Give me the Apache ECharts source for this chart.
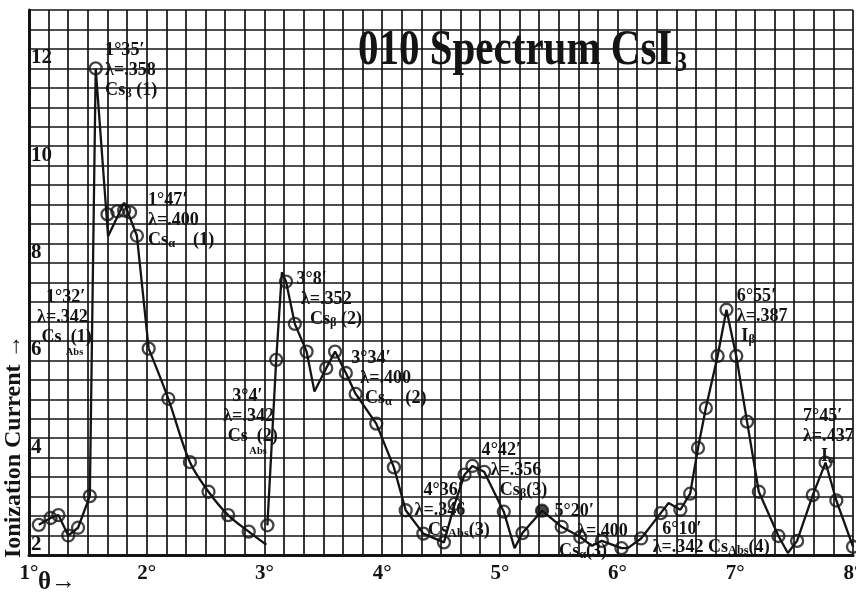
<!DOCTYPE html>
<html><head><meta charset="utf-8">
<script src="https://cdn.jsdelivr.net/npm/echarts@6/dist/echarts.min.js"></script>
<style>html,body{margin:0;padding:0;background:#fff}#c{width:856px;height:592px}</style>
</head><body><div id="c"></div>
<script>
// θ in arc-minutes, ionization current in scale divisions
const circleMinutes = [65, 71, 75, 80, 85, 91, 94, 100, 105, 108.5, 111.5, 115, 121, 131, 142, 151.5, 161.5, 172, 181.5, 186, 191, 195.5, 201.5, 211.5, 216, 221.5, 226.5, 237, 246, 252, 261, 271.5, 277, 282, 286, 292, 302, 311.5, 321.5, 331.5, 341, 352, 362, 372, 382, 392, 397, 401, 405, 411, 415.5, 420.5, 426, 432, 442, 451.5, 459.5, 466, 471.5, 480];
const circleCurrent = [2.62, 2.76, 2.82, 2.40, 2.56, 3.21, 12.0, 9.0, 9.06, 9.08, 9.04, 8.56, 6.24, 5.21, 3.91, 3.30, 2.82, 2.48, 2.61, 6.01, 7.62, 6.75, 6.18, 5.84, 6.18, 5.74, 5.31, 4.70, 3.80, 2.92, 2.44, 2.26, 3.05, 3.65, 3.83, 3.71, 2.89, 2.45, 2.91, 2.58, 2.37, 2.29, 2.14, 2.34, 2.86, 2.93, 3.26, 4.20, 5.02, 6.09, 7.04, 6.09, 4.74, 3.30, 2.39, 2.29, 3.23, 3.90, 3.12, 2.17];

// drawn curve, first order (straight strokes)
const curveAMinutes = [65, 71, 75, 80, 85, 91, 94, 100.3, 108.5, 115, 121];
const curveACurrent = [2.62, 2.76, 2.82, 2.40, 2.56, 3.21, 12.0, 8.55, 9.24, 8.56, 6.24];
// smooth decay between 2° and 3°
const curveBMinutes = [121, 131, 142, 151.5, 161.5, 172, 181];
const curveBCurrent = [6.24, 5.21, 3.91, 3.30, 2.82, 2.48, 2.21];
// from 3° to 8°
const curveCMinutes = [181.5, 186, 188.9, 191, 195.5, 201.5, 205.5, 211.5, 216, 221.5, 226.5, 237, 246, 252, 261, 271.5, 277, 282, 286, 292, 302, 307.5, 311.5, 321.5, 331.5, 341, 346.8, 352, 362, 365.2, 372, 382, 386, 392, 397, 401, 405, 411, 415.5, 420.5, 426, 432, 442, 446.8, 451.5, 459.5, 466, 471.5, 480];
const curveCCurrent = [2.61, 6.01, 7.81, 7.62, 6.75, 6.18, 5.36, 5.84, 6.18, 5.74, 5.31, 4.70, 3.80, 2.92, 2.44, 2.26, 3.05, 3.65, 3.83, 3.71, 2.89, 2.14, 2.45, 2.91, 2.58, 2.37, 2.19, 2.29, 2.14, 2.14, 2.34, 2.86, 3.07, 2.93, 3.26, 4.20, 5.02, 6.09, 7.04, 6.09, 4.74, 3.30, 2.39, 2.04, 2.29, 3.23, 3.90, 3.12, 2.17];

const xTickLabels = ['1°', '2°', '3°', '4°', '5°', '6°', '7°', '8°'];
const yTickLabels = ['2', '4', '6', '8', '10', '12'];
const filledCircleMinute = 321.5;

const titleMain = '010 Spectrum CsI';
const titleSub = '3';
const yName = 'Ionization Current →';
const xName = 'θ→';

// annotation text blocks, anchored (top-left) in data coordinates
const annotations = [
  {at: [98.8, 12.58], lines: ['{t|1°35′}', '{t|λ=.358}', '{t|Cs}{s|β}{t| (1)}']},
  {at: [120.7, 9.50], lines: ['{t|1°47′}', '{t|λ=.400}', '{t|Cs}{s|α}{t|    (1)}']},
  {at: [64.1, 7.51], lines: ['{t|  1°32′}', '{t|λ=.342}', '{t| Cs  (1)}', '{a|           Abs}']},
  {at: [159.0, 5.47], lines: ['{t|  3°4′}', '{t|λ=.342}', '{t| Cs  (2)}', '{a|          Abs}']},
  {at: [196.3, 7.88], lines: ['{t|3°8′}', '{t| λ=.352}', '{t|   Cs}{s|β}{t| (2)}']},
  {at: [224.3, 6.25], lines: ['{t|3°34′}', '{t|  λ=.400}', '{t|   Cs}{s|α}{t|   (2)}']},
  {at: [256.5, 3.54], lines: ['{t|  4°36′}', '{t|λ=.346}', '{t|   Cs}{s|Abs}{t|(3)}']},
  {at: [290.7, 4.36], lines: ['{t|4°42′}', '{t|  λ=.356}', '{t|    Cs}{s|β}{t|(3)}']},
  {at: [327.9, 3.11], lines: ['{t|5°20′}', '{t|     λ=.400}', '{t| Cs}{s|α}{t|(3)}']},
  {at: [382.8, 2.74], lines: ['{t|6°10′}']},
  {at: [377.9, 2.36], lines: ['{t|λ=.342 Cs}{s|Abs}{t|(4)}']},
  {at: [420.8, 7.53], lines: ['{t|6°55′}', '{t|λ=.387}', '{t| I}{s|β}']},
  {at: [454.5, 5.06], lines: ['{t|7°45′}', '{t|λ=.437}', '{t|    I}{s|α}']}
];

const INK = '#141414';
const FONT = '"Liberation Serif", "DejaVu Serif", serif';

const pairs = (xs, ys) => xs.map((x, i) => [x, ys[i]]);

const chart = echarts.init(document.getElementById('c'), null, {renderer: 'canvas'});

const option = {
  backgroundColor: '#ffffff',
  animation: false,
  grid: {left: 29, right: 3, top: 10, bottom: 37, containLabel: false, outerBoundsMode: 'none'},
  xAxis: {
    type: 'value', min: 60, max: 480, interval: 10,
    axisLine: {show: true, onZero: false, lineStyle: {color: INK, width: 3}},
    axisTick: {show: false},
    splitLine: {show: true, lineStyle: {color: INK, width: 1.7}},
    axisLabel: {
      show: true, margin: 8, color: INK, fontFamily: FONT, fontWeight: 'bold', fontSize: 21,
      showMinLabel: true, showMaxLabel: true, hideOverlap: false,
      formatter: v => (Math.round(v) % 60 === 0 ? xTickLabels[Math.round(v) / 60 - 1] : '')
    }
  },
  yAxis: {
    type: 'value', min: 2, max: 13.2, interval: 0.4,
    axisLine: {show: true, onZero: false, lineStyle: {color: INK, width: 3}},
    axisTick: {show: false},
    splitLine: {show: true, lineStyle: {color: INK, width: 1.7}},
    axisLabel: {
      show: true, inside: true, margin: 2, color: INK, fontFamily: FONT, fontWeight: 'bold', fontSize: 21,
      verticalAlign: 'bottom', align: 'left', showMinLabel: true, hideOverlap: false,
      formatter: v => {
        const r = Math.round(v);
        if (Math.abs(v - r) < 1e-6 && r % 2 === 0 && r <= 12) return yTickLabels[(r - 2) / 2];
        return '';
      }
    }
  },
  series: [
    {type: 'line', data: pairs(curveAMinutes, curveACurrent), symbol: 'none', smooth: false,
     lineStyle: {color: INK, width: 2.3}, z: 3},
    {type: 'line', data: pairs(curveBMinutes, curveBCurrent), symbol: 'none', smooth: 0.35,
     lineStyle: {color: INK, width: 2.3}, z: 3},
    {type: 'line', data: pairs(curveCMinutes, curveCCurrent), symbol: 'none', smooth: false,
     lineStyle: {color: INK, width: 2.3}, z: 3},
    {type: 'scatter', symbol: 'circle', symbolSize: 12, z: 4,
     itemStyle: {color: 'rgba(255,255,255,0)', borderColor: INK, borderWidth: 2.3},
     data: pairs(circleMinutes, circleCurrent).map(p =>
       p[0] === filledCircleMinute ? {value: p, itemStyle: {color: INK}} : p)}
  ]
};
chart.setOption(option);

const graphics = [];
graphics.push({
  type: 'text', x: 358, y: 24, scaleX: 0.82, z: 10,
  style: {
    text: '{a|' + titleMain + '}{b|' + titleSub + '}',
    fill: INK,
    rich: {
      a: {fontFamily: FONT, fontWeight: 'bold', fontSize: 50, lineHeight: 54, fill: INK},
      b: {fontFamily: FONT, fontWeight: 'bold', fontSize: 30, lineHeight: 30, verticalAlign: 'bottom', fill: INK, padding: [0, 0, 0, 3]}
    }
  }
});
graphics.push({
  type: 'text', x: 26, y: 558, rotation: Math.PI / 2, z: 10,
  style: {text: yName, fill: INK, fontFamily: FONT, fontWeight: 'bold', fontSize: 24,
          align: 'left', verticalAlign: 'bottom'}
});
graphics.push({
  type: 'text', x: 38, y: 570, z: 10,
  style: {text: xName, fill: INK, fontFamily: FONT, fontWeight: 'bold', fontSize: 25,
          align: 'left', verticalAlign: 'top'}
});
annotations.forEach(a => {
  const p = chart.convertToPixel({gridIndex: 0}, a.at);
  graphics.push({
    type: 'text', x: p[0], y: p[1], scaleX: 0.95, z: 10,
    style: {
      text: a.lines.join('\n'),
      fill: INK, align: 'left', verticalAlign: 'top',
      rich: {
        t: {fontFamily: FONT, fontWeight: 'bold', fontSize: 19, lineHeight: 20, fill: INK},
        s: {fontFamily: FONT, fontWeight: 'bold', fontSize: 13, lineHeight: 6, verticalAlign: 'bottom', fill: INK},
        a: {fontFamily: FONT, fontWeight: 'bold', fontSize: 11, lineHeight: 10, fill: INK}
      }
    }
  });
});
chart.setOption({graphic: graphics});
</script>
</body></html>
